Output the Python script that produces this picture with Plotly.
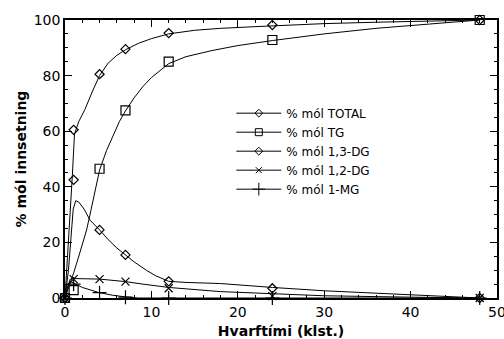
import plotly.graph_objects as go

# Measured sample times (klst.)
time = [0, 1, 4, 7, 12, 24, 48]

# Measured points (% mól)
total = [0, 60.5, 80.5, 89.5, 95.3, 98.2, 100]
tg = [0, 2.8, 46.5, 67.5, 85.0, 92.8, 100]
dg13 = [0, 42.5, 24.5, 15.5, 6.0, 3.5, 0]
dg12 = [0, 6.8, 6.8, 5.9, 3.5, 0.7, 0]
mg1 = [0, 5.0, 1.9, 0.3, 0, 0, 0]

# Fitted curves
total_cx = [0, 0.3, 0.6, 0.85, 1.1, 1.6, 2.3, 3.2, 4, 5, 6, 7, 8.5, 10, 12, 15, 18, 22, 24, 30, 36, 42, 48]
total_cy = [0, 14, 31, 44, 59, 63.5, 67.8, 74.5, 80, 84.5, 87.3, 89.3, 91.6, 93.3, 95, 96.3, 97, 97.6, 97.9, 98.7, 99.2, 99.6, 100]

tg_cx = [0, 0.3, 0.6, 1, 1.5, 2, 2.5, 3, 3.5, 4, 4.8, 5.6, 6.3, 7, 8, 9, 10, 12, 14, 17, 20, 24, 30, 36, 42, 48]
tg_cy = [0, 2.5, 5.3, 9, 14, 19.5, 24.5, 31.5, 39, 46, 53, 58.5, 63.5, 67.3, 72, 76, 79.3, 84.3, 86.8, 89, 90.8, 92.6, 95, 97, 98.6, 100]

dg13_cx = [0, 0.4, 0.7, 0.95, 1.25, 1.6, 2.2, 2.9, 4, 5, 6, 7, 8, 9.4, 10.5, 12, 14, 18, 22, 24, 30, 36, 40, 44, 48]
dg13_cy = [0, 10, 22, 32, 35, 34.5, 32, 28, 24.5, 21, 18, 15.5, 13, 10, 8, 6, 5.6, 5.2, 4.2, 3.8, 2.6, 1.8, 1.1, 0.5, 0]

dg12_cx = [0, 0.3, 0.6, 1, 4, 7, 9, 12, 18, 24, 30, 40, 48]
dg12_cy = [0, 4, 6.8, 7, 6.8, 5.9, 5, 3.8, 2.3, 1.5, 0.8, 0.3, 0]

mg1_cx = [0, 0.3, 0.6, 1, 2, 4, 5.5, 7, 8.5, 12, 48]
mg1_cy = [0, 4, 6, 5.3, 3.8, 1.9, 1.0, 0.4, 0, 0, 0]

names = ["% mól TOTAL", "% mól TG", "% mól 1,3-DG", "% mól 1,2-DG", "% mól 1-MG"]
symbols = ["diamond-open", "square-open", "diamond-open", "x-thin-open", "cross-thin-open"]
msizes = [7, 9, 7, 8, 10]
lsizes = [6, 7, 6, 6, 9]

points = [total, tg, dg13, dg12, mg1]
curves = [(total_cx, total_cy), (tg_cx, tg_cy), (dg13_cx, dg13_cy), (dg12_cx, dg12_cy), (mg1_cx, mg1_cy)]

FONT = "DejaVu Sans, Arial, sans-serif"
fig = go.Figure()

for i in range(5):
    cx, cy = curves[i]
    fig.add_trace(go.Scatter(x=cx, y=cy, mode="lines", line=dict(color="black", width=1),
                             showlegend=False, hoverinfo="skip"))
    fig.add_trace(go.Scatter(x=time, y=points[i], mode="markers", cliponaxis=False,
                             marker=dict(symbol=symbols[i], size=msizes[i], color="black",
                                         line=dict(color="black", width=1.2)),
                             showlegend=False))
for i in range(5):
    fig.add_trace(go.Scatter(x=[None], y=[None], mode="lines+markers", name=names[i],
                             line=dict(color="black", width=1),
                             marker=dict(symbol=symbols[i], size=lsizes[i], color="black",
                                         line=dict(color="black", width=1))))

axis_common = dict(showgrid=False, zeroline=False, showline=True, linecolor="black", linewidth=1.5,
                   mirror="allticks", ticks="inside", ticklen=7, tickwidth=1.2, tickcolor="black",
                   automargin=False, ticklabeloverflow="allow",
                   tickfont=dict(family=FONT, size=14, color="black"))

fig.update_xaxes(range=[0, 50], dtick=10, tick0=0,
                 minor=dict(dtick=2, ticks="inside", ticklen=3, tickcolor="black", tickwidth=1),
                 title=dict(text="<b>Hvarftími (klst.)</b>", font=dict(family=FONT, size=14, color="black"),
                            standoff=13),
                 **axis_common)
fig.update_yaxes(range=[0, 100], dtick=20, tick0=0,
                 minor=dict(dtick=5, ticks="inside", ticklen=3, tickcolor="black", tickwidth=1),
                 title=dict(text="<b>% mól innsetning</b>", font=dict(family=FONT, size=14, color="black"),
                            standoff=4),
                 **axis_common)

fig.update_layout(
    width=504, height=339,
    margin=dict(l=65, r=7, t=20, b=41),
    plot_bgcolor="white", paper_bgcolor="white",
    showlegend=True,
    legend=dict(x=0.385, y=0.717, xanchor="left", yanchor="top", bgcolor="rgba(0,0,0,0)",
                font=dict(family=FONT, size=12, color="black"), itemwidth=45,
                tracegroupgap=0),
)

fig.write_html("out.html", config={"displayModeBar": False},
               post_script="document.body.style.margin='0';document.body.style.overflow='hidden';")
